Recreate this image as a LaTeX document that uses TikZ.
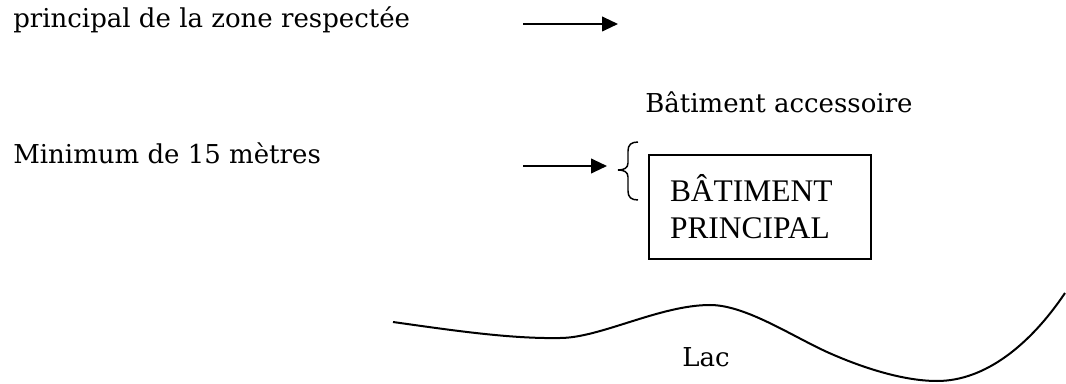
\documentclass[tikz,border=0pt]{standalone}
\usepackage{fontspec}
\setmainfont{DejaVu Serif}
\newfontfamily\boxfont{Liberation Serif}
\usetikzlibrary{arrows.meta}
\tikzset{
  label text/.style={anchor=base west, inner sep=0pt, font=\fontsize{19.5pt}{23pt}\selectfont},
  pointer/.style={line width=1.5pt, -{Triangle[length=12pt,width=11pt]}},
  outline/.style={line width=1.5pt},
  bracket/.style={line width=1.1pt},
}
\begin{document}
\begin{tikzpicture}[x=0.75pt, y=-0.75pt]
\useasboundingbox (0,0) rectangle (1066,384);

% labels on the left
\node[label text] (zone) at (13,28) {principal de la zone respectée};
\node[label text] (minimum) at (13,164) {Minimum de 15 mètres};
\node[label text] (accessoire) at (645,113) {Bâtiment accessoire};
\node[label text] (lac) at (682,366) {Lac};

% arrows
\coordinate (a1s) at (523,24);
\coordinate (a1e) at (618,24);
\draw[pointer] (a1s) -- (a1e);
\coordinate (a2s) at (523,166);
\coordinate (a2e) at (607,166);
\draw[pointer] (a2s) -- (a2e);

% curly brace in front of the building
\draw[bracket] (638,142) .. controls (631,142) and (628,145) .. (628,151)
  -- (628,163) .. controls (628,168) and (624,170) .. (618,170)
  .. controls (624,170) and (628,172) .. (628,177)
  -- (628,191) .. controls (628,197) and (631,200) .. (638,200);

% main building
\node[draw, outline, minimum width=166.5pt, minimum height=78pt,
      text width=135pt, inner xsep=15.75pt, align=left,
      font=\boxfont\fontsize{23.6pt}{27.75pt}\selectfont]
  (principal) at (760,207) {BÂTIMENT\\PRINCIPAL};

% shoreline of the lake
\draw[outline] (393,322) .. controls (450,330) and (510,339) .. (560,338)
  .. controls (600,338) and (660,305) .. (710,305)
  .. controls (745,305) and (790,335) .. (827,352)
  .. controls (865,369) and (905,381) .. (937,381)
  .. controls (985,381) and (1030,345) .. (1065,293);
\end{tikzpicture}
\end{document}
